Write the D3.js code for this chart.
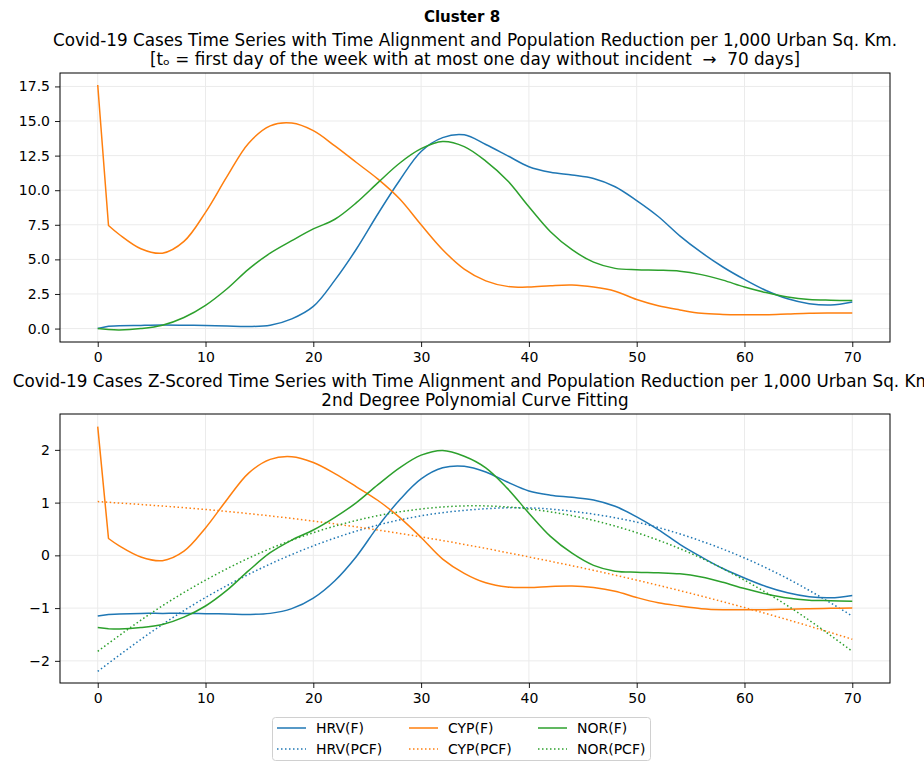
<!DOCTYPE html>
<html>
<head>
<meta charset="utf-8">
<script src="https://cdn.jsdelivr.net/npm/d3@7"></script>
<style>
  body { margin: 0; background: #fff; }
  svg { font-family: "DejaVu Sans", sans-serif; }
</style>
</head>
<body>
<svg id="chart" width="924" height="762"></svg>
<script>
// days
const days = [0, 1, 2, 4, 6, 8, 10, 12, 14, 16, 18, 20, 22, 24, 26, 28, 30, 32, 34, 36,
              38, 40, 42, 44, 46, 48, 50, 52, 54, 56, 58, 60, 62, 64, 66, 68, 70];

// top panel: cases per 1,000 urban sq. km
const hrvCases = [0, 0.17, 0.2, 0.23, 0.25, 0.24, 0.22, 0.18, 0.15, 0.24, 0.7, 1.6, 3.5, 5.75, 8.3, 10.7, 12.8, 13.8, 14.0, 13.3,
                  12.5, 11.7, 11.3, 11.1, 10.85, 10.25, 9.25, 8.1, 6.7, 5.5, 4.45, 3.55, 2.75, 2.15, 1.8, 1.7, 1.92];
const cypCases = [17.6, 7.45, 6.8, 5.77, 5.45, 6.3, 8.4, 11.0, 13.4, 14.65, 14.85, 14.3, 13.2, 12.0, 10.8, 9.38, 7.5, 5.7, 4.3, 3.45,
                  3.05, 3.0, 3.1, 3.15, 3.0, 2.7, 2.1, 1.65, 1.35, 1.1, 1.02, 1.0, 1.0, 1.05, 1.1, 1.12, 1.13];
const norCases = [0, -0.07, -0.1, 0.0, 0.24, 0.8, 1.68, 2.88, 4.3, 5.45, 6.35, 7.2, 7.9, 9.1, 10.55, 11.95, 13.0, 13.52, 13.15, 12.1,
                  10.7, 8.8, 7.0, 5.7, 4.8, 4.35, 4.25, 4.22, 4.15, 3.9, 3.5, 3.0, 2.6, 2.28, 2.1, 2.05, 2.03];

// bottom panel: z-scored series
const hrvZ = [-1.15, -1.12, -1.11, -1.10, -1.10, -1.10, -1.105, -1.11, -1.12, -1.10, -1.01, -0.81, -0.48, -0.02, 0.55, 1.05, 1.45, 1.66, 1.69, 1.58,
              1.39, 1.22, 1.14, 1.10, 1.05, 0.93, 0.73, 0.49, 0.21, -0.03, -0.25, -0.43, -0.59, -0.71, -0.785, -0.805, -0.76];
const cypZ = [2.44, 0.32, 0.18, -0.03, -0.10, 0.08, 0.52, 1.06, 1.56, 1.82, 1.87, 1.76, 1.55, 1.30, 1.04, 0.72, 0.34, -0.07, -0.34, -0.52,
              -0.60, -0.61, -0.59, -0.58, -0.61, -0.68, -0.80, -0.90, -0.96, -1.01, -1.03, -1.03, -1.03, -1.02, -1.01, -1.005, -1.0];
const norZ = [-1.37, -1.39, -1.395, -1.37, -1.31, -1.17, -0.96, -0.66, -0.29, 0.05, 0.29, 0.48, 0.72, 1.0, 1.34, 1.66, 1.9, 1.99, 1.88, 1.66,
              1.27, 0.80, 0.36, 0.04, -0.19, -0.30, -0.32, -0.33, -0.35, -0.41, -0.51, -0.63, -0.73, -0.81, -0.85, -0.86, -0.87];

// 2nd degree polynomial fits, read every 5 days
const fitDays = [0, 5, 10, 15, 20, 25, 30, 35, 40, 45, 50, 55, 60, 65, 70];
const hrvFit = [-2.2, -1.45, -0.80, -0.26, 0.18, 0.52, 0.75, 0.87, 0.9, 0.81, 0.63, 0.34, -0.05, -0.55, -1.15];
const cypFit = [1.02, 0.95, 0.87, 0.77, 0.65, 0.51, 0.35, 0.17, -0.03, -0.24, -0.47, -0.72, -0.99, -1.28, -1.59];
const norFit = [-1.82, -1.09, -0.47, 0.04, 0.43, 0.71, 0.88, 0.94, 0.88, 0.71, 0.43, 0.04, -0.47, -1.09, -1.82];

const xTicks = [0, 10, 20, 30, 40, 50, 60, 70];
const topTicks = [0, 2.5, 5, 7.5, 10, 12.5, 15, 17.5];
const bottomTicks = [-2, -1, 0, 1, 2];

const colors = {HRV: "#1f77b4", CYP: "#ff7f0e", NOR: "#2ca02c"};

const svg = d3.select("#chart");
const left = 60, right = 890;

svg.append("text")
    .attr("x", 462).attr("y", 22)
    .attr("text-anchor", "middle")
    .style("font-size", "15px").style("font-weight", "bold")
    .text("Cluster 8");

function panel(top, bottom, yDomain, yTicks, yFormat, titles) {
    let x = d3.scaleLinear().domain([-3.5, 73.5]).range([left, right]);
    let y = d3.scaleLinear().domain(yDomain).range([bottom, top]);
    let g = svg.append("g");

    titles.forEach((t, i) => {
        g.append("text")
            .attr("x", (left + right) / 2)
            .attr("y", top - 27 + i * 19)
            .attr("text-anchor", "middle")
            .style("font-size", "16.8px")
            .style("white-space", "pre")
            .text(t);
    });

    // grid
    g.append("g").selectAll("line").data(xTicks).join("line")
        .attr("x1", d => x(d)).attr("x2", d => x(d))
        .attr("y1", top).attr("y2", bottom)
        .attr("stroke", "#ebebeb").attr("stroke-width", 1);
    g.append("g").selectAll("line").data(yTicks).join("line")
        .attr("x1", left).attr("x2", right)
        .attr("y1", d => y(d)).attr("y2", d => y(d))
        .attr("stroke", "#ebebeb").attr("stroke-width", 1);

    let xAxis = g.append("g")
        .attr("transform", `translate(0,${bottom})`)
        .call(d3.axisBottom(x).tickValues(xTicks).tickFormat(d3.format("d")).tickSize(5).tickPadding(5));
    let yAxis = g.append("g")
        .attr("transform", `translate(${left},0)`)
        .call(d3.axisLeft(y).tickValues(yTicks).tickFormat(yFormat).tickSize(5).tickPadding(5));
    [xAxis, yAxis].forEach(a => {
        a.select(".domain").remove();
        a.selectAll("text").style("font-size", "14px").attr("fill", "#000")
            .style("font-family", "DejaVu Sans");
        a.selectAll("line").attr("stroke", "#000").attr("stroke-width", 0.9);
    });

    g.append("rect")
        .attr("x", left).attr("y", top)
        .attr("width", right - left).attr("height", bottom - top)
        .attr("fill", "none").attr("stroke", "#000").attr("stroke-width", 1);

    return {x, y, g};
}

const topPanel = panel(73, 342, [-0.97, 18.47], topTicks, d3.format(".1f"), [
    "Covid-19 Cases Time Series with Time Alignment and Population Reduction per 1,000 Urban Sq. Km.",
    "[tₒ = first day of the week with at most one day without incident  \u2192  70 days]"
]);

const bottomPanel = panel(414, 683, [-2.42, 2.68], bottomTicks, d => d3.format("d")(d).replace("-", "\u2212"), [
    "Covid-19 Cases Z-Scored Time Series with Time Alignment and Population Reduction per 1,000 Urban Sq. Km.",
    "2nd Degree Polynomial Curve Fitting"
]);

function drawLine(p, xs, ys, color, dotted) {
    let pts = ys.map((v, i) => [p.x(xs[i]), p.y(v)]);
    let d;
    if (dotted) {
        d = d3.line().curve(d3.curveNatural)(pts);
    } else {
        // first day is a straight drop, the rest is smooth
        let head = d3.line()(pts.slice(0, 2));
        let tail = d3.line().curve(d3.curveCatmullRom.alpha(0.5))(pts.slice(1));
        d = head + tail.replace(/^M/, "L");
    }
    p.g.append("path")
        .attr("d", d)
        .attr("fill", "none")
        .attr("stroke", color)
        .attr("stroke-width", 1.5)
        .attr("stroke-linejoin", "round")
        .attr("stroke-dasharray", dotted ? "1.5,2.5" : null);
}

drawLine(topPanel, days, hrvCases, colors.HRV, false);
drawLine(topPanel, days, cypCases, colors.CYP, false);
drawLine(topPanel, days, norCases, colors.NOR, false);

drawLine(bottomPanel, days, hrvZ, colors.HRV, false);
drawLine(bottomPanel, fitDays, hrvFit, colors.HRV, true);
drawLine(bottomPanel, days, cypZ, colors.CYP, false);
drawLine(bottomPanel, fitDays, cypFit, colors.CYP, true);
drawLine(bottomPanel, days, norZ, colors.NOR, false);
drawLine(bottomPanel, fitDays, norFit, colors.NOR, true);

// legend
const legendItems = [
    {label: "HRV(F)", color: colors.HRV, dotted: false, col: 0, row: 0},
    {label: "HRV(PCF)", color: colors.HRV, dotted: true, col: 0, row: 1},
    {label: "CYP(F)", color: colors.CYP, dotted: false, col: 1, row: 0},
    {label: "CYP(PCF)", color: colors.CYP, dotted: true, col: 1, row: 1},
    {label: "NOR(F)", color: colors.NOR, dotted: false, col: 2, row: 0},
    {label: "NOR(PCF)", color: colors.NOR, dotted: true, col: 2, row: 1}
];
const colX = [277, 409, 538];
let legend = svg.append("g");
legend.append("rect")
    .attr("x", 272.5).attr("y", 717.5)
    .attr("width", 378).attr("height", 43)
    .attr("rx", 3)
    .attr("fill", "#fff").attr("stroke", "#d0d0d0");
let items = legend.selectAll("g.item").data(legendItems).join("g")
    .attr("transform", d => `translate(${colX[d.col]},${728 + d.row * 21})`);
items.append("line")
    .attr("x1", 0).attr("x2", 29)
    .attr("stroke", d => d.color).attr("stroke-width", 1.5)
    .attr("stroke-dasharray", d => d.dotted ? "1.5,2.5" : null);
items.append("text")
    .attr("x", 39).attr("y", 5)
    .style("font-size", "14px")
    .text(d => d.label);
</script>
</body>
</html>
